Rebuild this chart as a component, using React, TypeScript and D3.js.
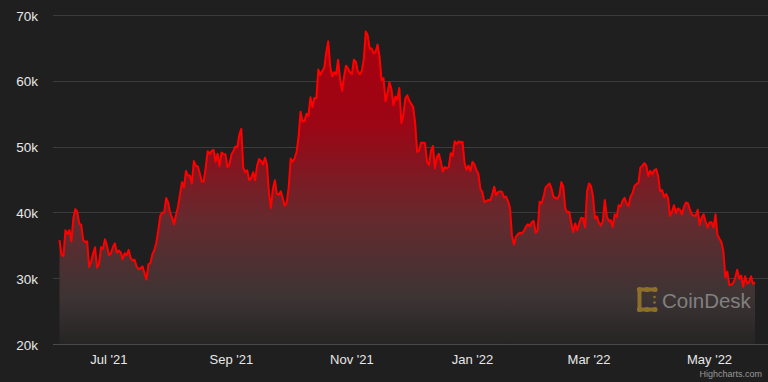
import React from 'react';
import * as d3 from 'd3';

// Daily BTC price (thousands USD), starting 2021-06-06
const startDate = '2021-06-06';
const prices: number[] = [
  // Jun 2021 (6-30)
  35.8, 33.6, 33.4, 37.3, 36.7, 37.3, 35.6, 39.1, 40.5, 40.1, 38.3, 38.1, 35.8, 35.5, 35.6, 31.7, 32.5, 33.7, 34.7, 31.6, 32.2, 34.7, 34.5, 35.9, 35.0,
  // Jul
  33.5, 33.8, 34.7, 35.3, 33.9, 34.2, 33.9, 32.9, 33.8, 33.5, 34.3, 33.1, 32.7, 32.8, 31.8, 31.4, 31.5, 31.8, 30.8, 29.8, 32.1, 32.3, 33.6, 34.3, 35.4, 37.3, 39.5, 40.0, 40.0, 42.2, 41.5,
  // Aug
  39.9, 39.2, 38.2, 39.7, 40.9, 42.8, 44.6, 43.8, 46.3, 45.6, 45.6, 44.4, 47.8, 47.1, 47.0, 45.9, 44.7, 44.7, 46.8, 49.3, 48.9, 49.3, 49.5, 47.7, 48.9, 47.0, 49.1, 48.9, 48.8, 46.9, 47.2,
  // Sep
  48.8, 49.3, 50.0, 49.9, 51.8, 52.7, 46.8, 46.1, 46.4, 44.9, 45.2, 46.1, 44.9, 47.1, 48.1, 47.8, 47.3, 48.3, 47.3, 43.0, 40.7, 43.6, 44.9, 42.8, 42.7, 43.2, 42.2, 41.0, 41.5, 43.8,
  // Oct
  48.2, 47.7, 48.2, 49.2, 51.5, 55.3, 53.8, 53.9, 55.0, 54.7, 57.5, 56.0, 57.4, 57.4, 61.7, 60.9, 61.5, 62.0, 64.3, 66.0, 62.2, 60.7, 61.3, 61.0, 63.2, 60.3, 58.5, 60.6, 62.3, 61.9, 61.3,
  // Nov
  61.0, 63.2, 62.9, 61.4, 61.0, 61.5, 63.3, 67.5, 66.9, 64.9, 64.9, 64.2, 64.4, 65.5, 63.6, 60.1, 60.4, 56.9, 58.1, 59.8, 58.7, 56.3, 57.6, 57.2, 58.9, 53.6, 54.8, 57.3, 57.8, 57.0,
  // Dec
  56.5, 56.0, 53.6, 49.2, 49.4, 50.6, 50.6, 50.5, 47.7, 47.2, 49.4, 50.1, 46.7, 48.4, 48.9, 47.7, 46.2, 46.9, 46.7, 46.9, 49.0, 48.6, 50.8, 50.4, 50.8, 50.7, 50.7, 47.5, 46.5, 47.1, 46.3,
  // Jan 2022
  47.7, 47.3, 46.4, 45.9, 43.6, 43.1, 41.6, 41.7, 41.9, 41.8, 42.7, 43.9, 42.6, 43.1, 43.2, 43.1, 42.3, 42.4, 41.7, 40.7, 36.5, 35.1, 36.3, 36.7, 36.9, 36.8, 37.2, 37.8, 38.2, 37.9, 38.5,
  // Feb
  38.7, 36.9, 37.3, 41.6, 41.4, 42.4, 43.8, 44.1, 44.4, 43.6, 42.4, 42.2, 42.1, 42.6, 44.6, 43.9, 40.6, 40.0, 40.1, 38.4, 37.0, 38.3, 37.3, 38.3, 39.2, 39.1, 37.7, 43.2,
  // Mar
  44.4, 44.0, 42.5, 39.1, 39.4, 38.4, 38.0, 38.7, 41.9, 39.4, 38.7, 38.8, 37.8, 39.7, 39.3, 41.1, 40.9, 41.8, 42.2, 41.3, 41.0, 42.4, 42.9, 44.0, 44.3, 44.5, 46.8, 47.1, 47.5, 47.1, 45.5,
  // Apr
  46.3, 45.8, 46.4, 46.6, 45.5, 43.2, 43.4, 42.3, 42.8, 42.2, 39.5, 40.1, 41.1, 39.9, 40.6, 40.4, 39.7, 40.8, 41.5, 41.4, 40.5, 39.7, 39.5, 39.5, 40.4, 38.1, 39.2, 39.7, 38.6, 37.7,
  // May (1-24)
  38.5, 38.5, 37.7, 39.7, 36.6, 36.0, 35.5, 34.1, 30.1, 31.0, 29.0, 29.0, 29.3, 30.1, 31.3, 29.9, 30.4, 28.7, 30.3, 29.2, 29.4, 30.3, 29.1, 29.4,
];

const yTicks = [20, 30, 40, 50, 60, 70];
const xTickDates = ['2021-07-01', '2021-09-01', '2021-11-01', '2022-01-01', '2022-03-01', '2022-05-01'];
const xTickLabels = ["Jul '21", "Sep '21", "Nov '21", "Jan '22", "Mar '22", "May '22"];

const W = 768;
const H = 382;
const FONT = '"Liberation Sans", Arial, Helvetica, sans-serif';

export default function App() {
  const parse = d3.utcParse('%Y-%m-%d');
  const t0 = parse(startDate) as Date;
  const data = prices.map((v, i) => ({ date: d3.utcDay.offset(t0, i), v }));

  const x = d3
    .scaleUtc()
    .domain([data[0].date, data[data.length - 1].date])
    .range([59.5, 755]);
  const y = d3.scaleLinear().domain([20, 70]).range([344, 15]);

  const line = d3
    .line<{ date: Date; v: number }>()
    .x((d) => x(d.date))
    .y((d) => y(d.v));
  const area = d3
    .area<{ date: Date; v: number }>()
    .x((d) => x(d.date))
    .y0(y(20))
    .y1((d) => y(d.v));

  const maxV = d3.max(prices) as number;

  return (
    <svg
      width={W}
      height={H}
      style={{ position: 'fixed', left: 0, top: 0, display: 'block' }}
      fontFamily={FONT}
    >
      <defs>
        <linearGradient id="areaGrad" gradientUnits="userSpaceOnUse" x1="0" x2="0" y1={y(maxV)} y2={y(20)}>
          <stop offset="0" stopColor="#a8000f" />
          <stop offset="0.3" stopColor="#9c0615" />
          <stop offset="0.6" stopColor="#652a2e" />
          <stop offset="0.85" stopColor="#3d3434" />
          <stop offset="1" stopColor="#262424" />
        </linearGradient>
      </defs>
      <rect x={0} y={0} width={W} height={H} fill="#1f1f1f" />

      {/* gridlines */}
      {yTicks.map((t) => (
        <line
          key={t}
          x1={53}
          x2={W}
          y1={Math.round(y(t)) + 0.5}
          y2={Math.round(y(t)) + 0.5}
          stroke={t === 20 ? '#4a4a4a' : '#3b3b3b'}
          strokeWidth={1}
        />
      ))}

      {/* area + line */}
      <path d={area(data) || ''} fill="url(#areaGrad)" />

      {/* CoinDesk watermark */}
      <g opacity={0.85}>
        <g fill="#9c7a2c" stroke="#9c7a2c">
          <path d="M639,289.5 H655 M639.5,289 V310 M639,309.5 H655" strokeWidth={4} strokeLinecap="round" fill="none" />
          <circle cx={639.5} cy={289.5} r={2.6} stroke="none" />
          <circle cx={647} cy={289.5} r={2.6} stroke="none" />
          <circle cx={655} cy={289.5} r={2.6} stroke="none" />
          <circle cx={639.5} cy={309.5} r={2.6} stroke="none" />
          <circle cx={647} cy={309.5} r={2.6} stroke="none" />
          <circle cx={655} cy={309.5} r={2.6} stroke="none" />
          <circle cx={654.5} cy={297} r={1.3} stroke="none" />
          <circle cx={654.5} cy={302.5} r={1.3} stroke="none" />
        </g>
        <text x={662} y={307.5} fontSize={20.5} fill="#8e8e8e" fontWeight={500}>
          CoinDesk
        </text>
      </g>

      <path d={line(data) || ''} fill="none" stroke="#ff0000" strokeWidth={2} strokeLinejoin="round" />

      {/* y labels */}
      {yTicks.map((t) => (
        <text
          key={t}
          x={38}
          y={y(t) + 5.5}
          textAnchor="end"
          fontSize={13.5}
          fill="#e8e8e8"
        >
          {`${t}k`}
        </text>
      ))}

      {/* x labels */}
      {xTickDates.map((d, i) => (
        <text
          key={d}
          x={x(parse(d) as Date)}
          y={364}
          textAnchor="middle"
          fontSize={13}
          fill="#e8e8e8"
        >
          {xTickLabels[i]}
        </text>
      ))}

      <text x={762} y={377} textAnchor="end" fontSize={9} fill="#999999">
        Highcharts.com
      </text>
    </svg>
  );
}
